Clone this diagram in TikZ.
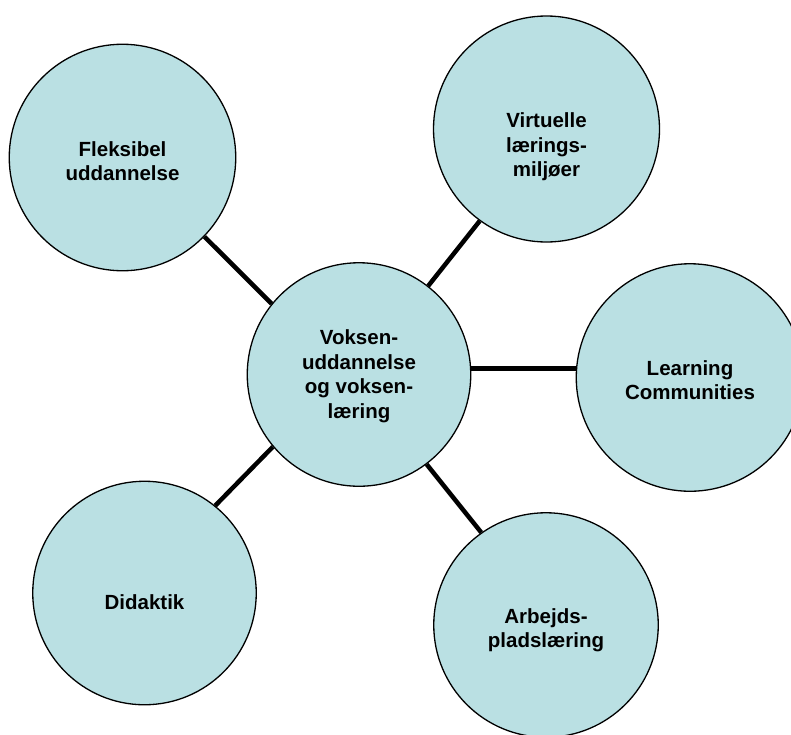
\documentclass[tikz,border=0pt]{standalone}
\usepackage{fontspec}
\setmainfont{Liberation Sans}
\usetikzlibrary{backgrounds}
\definecolor{bubblefill}{RGB}{186,224,227}
\begin{document}
\begin{tikzpicture}[x=1pt,y=-1pt,
  bubble/.style={circle, draw=black, line width=1.3pt, fill=bubblefill, inner sep=0pt},
  txt/.style={font=\fontsize{20.5}{24.5}\selectfont\bfseries, align=center, inner sep=0pt},
  link/.style={line width=4.5pt}]
\useasboundingbox (0,0) rectangle (791,734);
% circles
\node[bubble, minimum size=226.5pt] (fl) at (122.5,157.5) {};
\node[bubble, minimum size=226pt] (vi) at (546.5,129) {};
\node[bubble, minimum size=227.5pt] (lc) at (690,377.5) {};
\node[bubble, minimum size=223.5pt] (c) at (359,374.5) {};
\node[bubble, minimum size=223.5pt] (di) at (144.5,593) {};
\node[bubble, minimum size=224.5pt] (ab) at (546,625) {};
% texts
\node[txt] (tfl) at (122.5,161) {Fleksibel\\uddannelse};
\node[txt] (tvi) at (546.5,147) {Virtuelle\\lærings-\\miljøer};
\node[txt] (tlc) at (690,380) {Learning\\Communities};
\node[txt] (tc) at (359,376) {Voksen-\\uddannelse\\og voksen-\\læring};
\node[txt] (tdi) at (144.5,602) {Didaktik};
\node[txt] (tab) at (546,630) {Arbejds-\\pladslæring};
% connectors
\begin{scope}[on background layer]
\draw[link] (fl.-44.6) -- (c.141.7);
\draw[link] (vi.-126.2) -- (c.52);
\draw[link] (c.3.8) -- (c.3.8 -| lc.west);
\draw[link] (c.220.2) -- (di.51.3);
\draw[link] (c.-53.5) -- (ab.125.7);
\end{scope}
\end{tikzpicture}
\end{document}
